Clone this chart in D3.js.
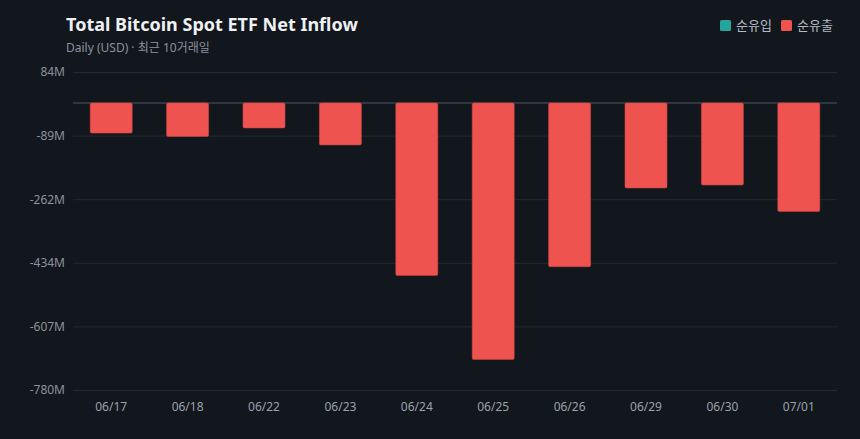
<!DOCTYPE html>
<html>
<head>
<meta charset="utf-8">
<script src="https://cdn.jsdelivr.net/npm/d3@7"></script>
<style>
  html, body { margin: 0; padding: 0; background: #12161d; }
  svg { display: block; font-family: "Noto Sans", "Noto Sans CJK KR", sans-serif; }
</style>
</head>
<body>
<div id="chart"></div>
<script>
// data (USD millions, daily net flow)
var dates = ["06/17", "06/18", "06/22", "06/23", "06/24", "06/25", "06/26", "06/29", "06/30", "07/01"];
var flows = [-82, -91, -68, -114, -469, -697, -445, -231, -223, -295];
var yTicks = [84, -88.8, -261.6, -434.4, -607.2, -780];
var legendLabels = ["순유입", "순유출"];

var W = 860, H = 439;
var margin = { top: 72, right: 23, bottom: 49, left: 73 };
var width = W - margin.left - margin.right;
var height = H - margin.top - margin.bottom;

var posColor = "#26a69a", negColor = "#ef5350";

var svg = d3.select("#chart").append("svg")
  .attr("width", W)
  .attr("height", H);

svg.append("rect").attr("width", W).attr("height", H).attr("fill", "#12161d");

// title + subtitle
svg.append("text")
  .attr("x", 66).attr("y", 31)
  .style("font-size", "18px")
  .style("font-weight", "bold")
  .style("fill", "#eef0f3")
  .text("Total Bitcoin Spot ETF Net Inflow");

svg.append("text")
  .attr("x", 66).attr("y", 52)
  .style("font-size", "12px")
  .style("fill", "#8b929c")
  .text("Daily (USD) · 최근 10거래일");

// legend
var legend = svg.selectAll(".legend")
  .data(legendLabels)
  .enter().append("g")
  .attr("class", "legend")
  .attr("transform", function(d, i) { return "translate(" + (720 + i * 61) + ",20)"; });

legend.append("rect")
  .attr("width", 11).attr("height", 11).attr("rx", 1.5)
  .attr("fill", function(d, i) { return i === 0 ? posColor : negColor; });

legend.append("text")
  .attr("x", 16).attr("y", 10)
  .style("font-size", "13px")
  .style("fill", "#b4bac3")
  .text(function(d) { return d; });

var g = svg.append("g")
  .attr("transform", "translate(" + margin.left + "," + margin.top + ")");

var x = d3.scaleBand()
  .domain(dates)
  .range([0, width])
  .paddingInner(0.45)
  .paddingOuter(0.225);

var y = d3.scaleLinear()
  .domain([-780, 84])
  .range([height, 0]);

// grid
g.append("g")
  .attr("class", "grid")
  .call(d3.axisLeft(y).tickValues(yTicks).tickSize(-width).tickFormat(""))
  .call(function(s) {
    s.select(".domain").remove();
    s.selectAll("line").attr("stroke", "#252a33").attr("stroke-width", 1);
  });

// y labels
g.append("g")
  .call(d3.axisLeft(y).tickValues(yTicks).tickSize(0).tickPadding(8)
    .tickFormat(function(d) { return Math.round(d) + "M"; }))
  .call(function(s) {
    s.select(".domain").remove();
    s.selectAll("text")
      .style("font-size", "12px")
      .style("fill", "#8b929c")
      .style("font-family", "\"Noto Sans\", sans-serif");
  });

// x labels
g.append("g")
  .attr("transform", "translate(0," + height + ")")
  .call(d3.axisBottom(x).tickSize(0).tickPadding(12))
  .call(function(s) {
    s.select(".domain").remove();
    s.selectAll("text")
      .style("font-size", "12px")
      .style("fill", "#9aa1ab")
      .style("font-family", "\"Noto Sans\", sans-serif");
  });

// zero line
g.append("line")
  .attr("x1", 0).attr("x2", width)
  .attr("y1", y(0)).attr("y2", y(0))
  .attr("stroke", "#3a424d")
  .attr("stroke-width", 1.5);

// bars
g.selectAll(".bar")
  .data(flows)
  .enter().append("rect")
  .attr("class", "bar")
  .attr("x", function(d, i) { return x(dates[i]); })
  .attr("width", x.bandwidth())
  .attr("y", function(d) { return y(Math.max(0, d)); })
  .attr("height", function(d) { return Math.abs(y(d) - y(0)); })
  .attr("rx", 1.5)
  .attr("fill", function(d) { return d >= 0 ? posColor : negColor; })
  .attr("stroke", function(d) { return d >= 0 ? "#1e8a80" : "#c94442"; })
  .attr("stroke-width", 0.6);
</script>
</body>
</html>
